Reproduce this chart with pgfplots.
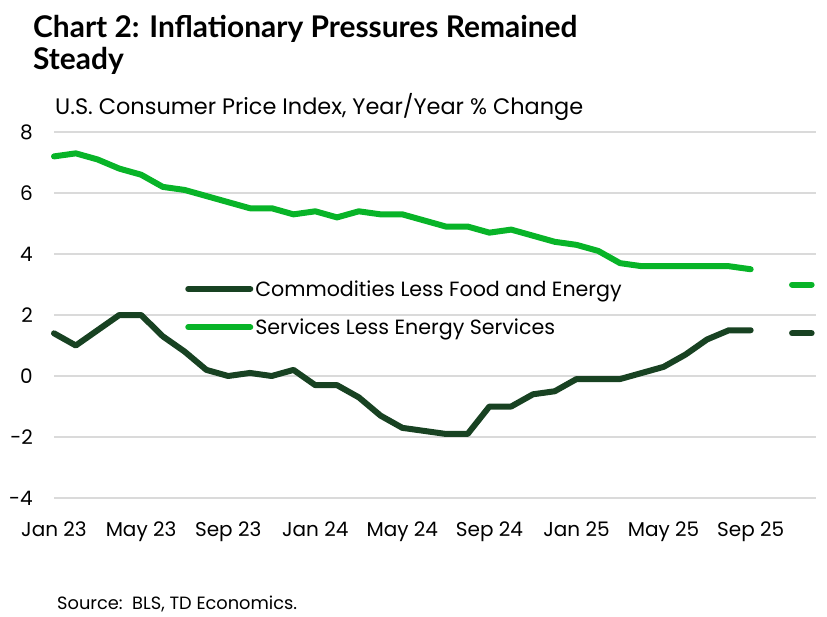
\documentclass[border=0pt]{standalone}
\usepackage{fontspec}
\setmainfont{Poppins}
\newfontfamily\titlefont{Lato}
\usepackage{pgfplots}
\pgfplotsset{compat=1.18}
\definecolor{dkgreen}{RGB}{24,66,34}
\definecolor{ltgreen}{RGB}{8,180,40}
\definecolor{gridgray}{RGB}{218,218,218}
\begin{document}
\begin{tikzpicture}[x=1pt,y=1pt]
\path (0,0) rectangle (827,-617);
\node[anchor=base west, inner sep=0, font=\titlefont\bfseries\fontsize{29.9}{32}\selectfont] at (33,-38) {Chart 2: Inflationary Pressures Remained};
\node[anchor=base west, inner sep=0, font=\titlefont\bfseries\fontsize{29.9}{32}\selectfont] at (33,-70) {Steady};
\node[anchor=base west, inner sep=0, font=\fontsize{22.4}{26}\selectfont] at (55,-115) {U.S. Consumer Price Index, Year/Year \% Change};
\node[anchor=base west, inner sep=0, font=\fontsize{17.8}{20}\selectfont] at (57,-609) {Source:\ \ BLS, TD Economics.};
\begin{axis}[
  at={(54pt,-498pt)}, anchor=south west, scale only axis,
  width=762pt, height=366pt,
  xmin=0, xmax=35, ymin=-4, ymax=8,
  axis line style={draw=none},
  ytick={-4,-2,0,2,4,6,8},
  xtick={0,4,8,12,16,20,24,28,32},
  xticklabels={Jan 23, May 23, Sep 23, Jan 24, May 24, Sep 24, Jan 25, May 25, Sep 25},
  ymajorgrids, grid style={gridgray, line width=2pt},
  major tick length=0pt,
  tick label style={font=\fontsize{20}{23}\selectfont},
  /pgf/number format/assume math mode=true,
  yticklabel style={anchor=east, inner sep=0pt, xshift=-21pt},
  xticklabel style={anchor=north, inner sep=0pt, yshift=-24pt},
  clip=false,
  legend style={at={(0.172,0.519)}, anchor=west, draw=none, fill=none, inner sep=0pt,
    font=\fontsize{20.6}{24}\selectfont, row sep=17pt, cells={anchor=west}},
  legend image code/.code={\draw[#1, line cap=round] (0pt,0pt) -- (62pt,0pt);},
]
\addplot[dkgreen, line width=6pt, line join=round, line cap=round] coordinates {
(0,1.4) (1,1.0) (2,1.5) (3,2.0) (4,2.0) (5,1.3) (6,0.8) (7,0.2) (8,0.0) (9,0.1) (10,0.0) (11,0.2)
(12,-0.3) (13,-0.3) (14,-0.7) (15,-1.3) (16,-1.7) (17,-1.8) (18,-1.9) (19,-1.9) (20,-1.0) (21,-1.0) (22,-0.6) (23,-0.5)
(24,-0.1) (25,-0.1) (26,-0.1) (27,0.1) (28,0.3) (29,0.7) (30,1.2) (31,1.5) (32,1.5)
};
\addlegendentry{Commodities Less Food and Energy}
\addplot[ltgreen, line width=6pt, line join=round, line cap=round] coordinates {
(0,7.2) (1,7.3) (2,7.1) (3,6.8) (4,6.6) (5,6.2) (6,6.1) (7,5.9) (8,5.7) (9,5.5) (10,5.5) (11,5.3)
(12,5.4) (13,5.2) (14,5.4) (15,5.3) (16,5.3) (17,5.1) (18,4.9) (19,4.9) (20,4.7) (21,4.8) (22,4.6) (23,4.4)
(24,4.3) (25,4.1) (26,3.7) (27,3.6) (28,3.6) (29,3.6) (30,3.6) (31,3.6) (32,3.5)
};
\addlegendentry{Services Less Energy Services}
\addplot[ltgreen, line width=6pt, line cap=round, forget plot] coordinates {(33.9,3.0) (34.8,3.0)};
\addplot[dkgreen, line width=6pt, line cap=round, forget plot] coordinates {(33.9,1.4) (34.8,1.4)};
\end{axis}
\end{tikzpicture}
\end{document}
